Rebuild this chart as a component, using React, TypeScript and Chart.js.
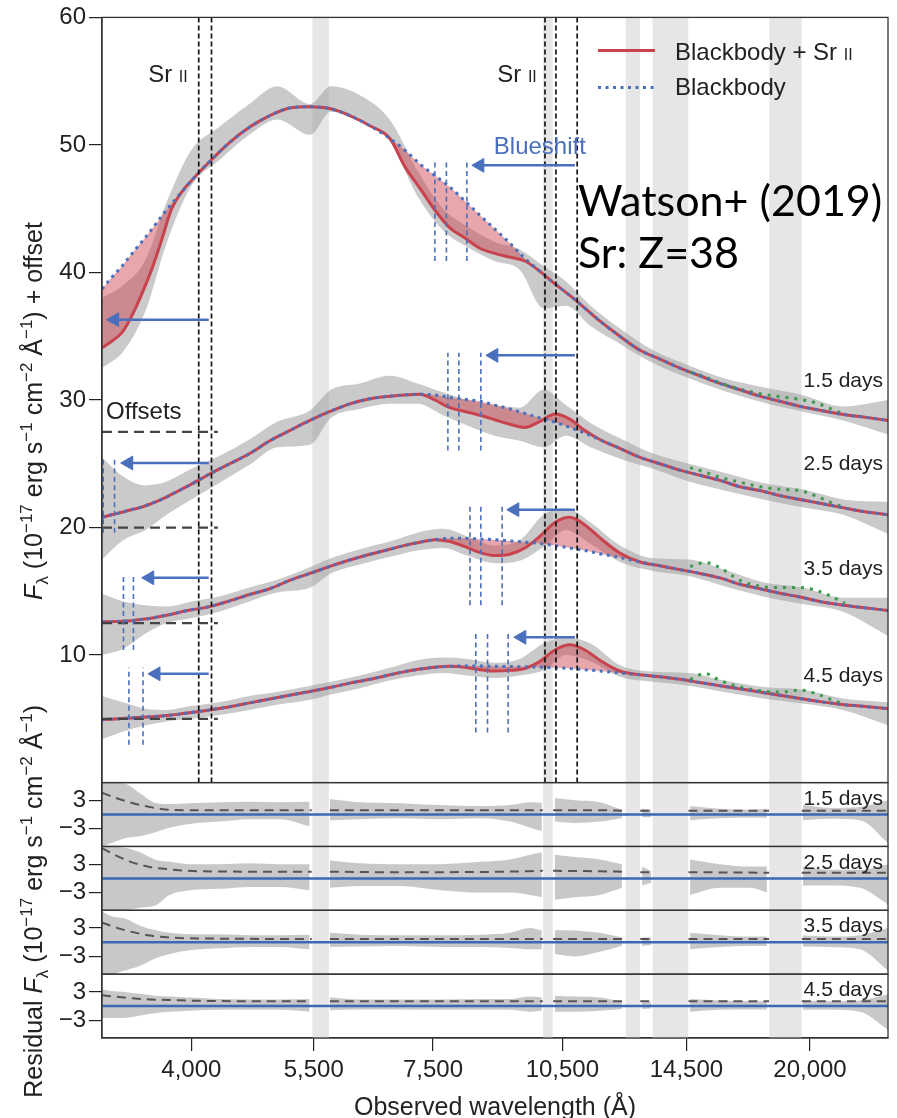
import React, { useEffect, useRef } from 'react';
import { Chart, registerables } from 'chart.js';

Chart.register(...registerables);

const FONT = '"Liberation Sans", Arial, Helvetica, sans-serif';
const NOTE_FONT = 'Lato, "Open Sans", sans-serif';

// ---------- axes ----------
const X_MIN = 3170;
const X_MAX = 24500;
const X_TICKS = [4000, 5500, 7500, 10500, 14500, 20000];
const Y_TICKS = [10, 20, 30, 40, 50, 60];
const RES_TICKS = [-3, 3];
const Y_MIN = 0;
const Y_MAX = 60;
const RES_LIM = 6.75;
const EPOCHS = ['1.5 days', '2.5 days', '3.5 days', '4.5 days'];

// ---------- model curves (wavelength grid in Å) ----------
const MODEL_WL = [3170, 3250, 3340, 3420, 3515, 3610, 3700, 3800, 3900, 4000, 4195, 4420, 4655, 4905, 5165, 5445, 5735, 6040, 6365, 6705, 6970, 7250, 7535, 7835, 8150, 8470, 8810, 9160, 9525, 9900, 10300, 10705, 11135, 11575, 12195, 12855, 13540, 14260, 15020, 15825, 16670, 17560, 18495, 19485, 20525, 21625, 22775, 24500];

const BB_15 = [38.7, 39.6, 40.5, 41.4, 42.4, 43.4, 44.4, 45.4, 46.3, 47.2, 48.7, 50.2, 51.4, 52.3, 52.9, 53.0, 52.85, 52.3, 51.5, 50.5, 49.6, 48.5, 47.6, 46.7, 45.6, 44.5, 43.4, 42.3, 41.1, 40.1, 39.1, 38.2, 37.2, 36.2, 35.0, 33.9, 33.2, 32.5, 31.9, 31.3, 30.8, 30.3, 29.9, 29.5, 29.2, 28.9, 28.7, 28.4];
const SR_15 = [34.1, 34.6, 35.3, 36.5, 38.3, 40.3, 42.5, 45.0, 46.3, 47.2, 48.7, 50.2, 51.4, 52.3, 52.9, 53.0, 52.85, 52.3, 51.5, 50.5, 48.3, 46.6, 44.9, 43.5, 42.7, 41.9, 41.5, 41.2, 40.9, 40.1, 39.1, 38.2, 37.2, 36.2, 35.0, 33.9, 33.2, 32.5, 31.9, 31.3, 30.8, 30.3, 29.9, 29.5, 29.2, 28.9, 28.7, 28.4];

const BB_25 = [20.8, 21.0, 21.2, 21.4, 21.6, 21.9, 22.2, 22.6, 23.0, 23.4, 24.2, 25.0, 25.8, 26.8, 27.6, 28.4, 29.1, 29.7, 30.1, 30.3, 30.4, 30.45, 30.4, 30.2, 30.05, 29.9, 29.6, 29.3, 28.95, 28.6, 28.25, 27.85, 27.4, 26.9, 26.2, 25.5, 25.0, 24.5, 24.1, 23.7, 23.2, 22.9, 22.5, 22.2, 21.9, 21.6, 21.3, 21.0];
const SR_25 = [20.8, 21.0, 21.2, 21.4, 21.6, 21.9, 22.2, 22.6, 23.0, 23.4, 24.2, 25.0, 25.8, 26.8, 27.6, 28.4, 29.1, 29.7, 30.1, 30.3, 30.4, 30.45, 30.0, 29.4, 29.1, 28.8, 28.45, 28.1, 27.85, 28.3, 28.9, 28.5, 27.6, 26.9, 26.2, 25.5, 25.0, 24.5, 24.1, 23.7, 23.2, 22.9, 22.5, 22.2, 21.9, 21.6, 21.3, 21.0];

const BB_35 = [12.6, 12.62, 12.65, 12.7, 12.8, 12.9, 13.05, 13.2, 13.4, 13.55, 13.8, 14.25, 14.75, 15.2, 15.85, 16.4, 16.95, 17.45, 17.9, 18.3, 18.6, 18.85, 19.05, 19.15, 19.15, 19.1, 19.05, 18.95, 18.85, 18.75, 18.6, 18.4, 18.2, 17.95, 17.65, 17.3, 17.0, 16.7, 16.4, 16.05, 15.55, 15.2, 14.85, 14.55, 14.2, 13.95, 13.75, 13.5];
const SR_35 = [12.6, 12.62, 12.65, 12.7, 12.8, 12.9, 13.05, 13.2, 13.4, 13.55, 13.8, 14.25, 14.75, 15.2, 15.85, 16.4, 16.95, 17.45, 17.9, 18.3, 18.6, 18.85, 19.05, 18.9, 18.5, 18.05, 17.8, 17.9, 18.4, 19.3, 20.4, 20.8, 20.2, 19.2, 18.0, 17.3, 17.0, 16.7, 16.4, 16.05, 15.55, 15.2, 14.85, 14.55, 14.2, 13.95, 13.75, 13.5];

const BB_45 = [4.93, 4.97, 5.02, 5.07, 5.12, 5.17, 5.22, 5.3, 5.4, 5.5, 5.7, 5.95, 6.25, 6.55, 6.85, 7.15, 7.45, 7.8, 8.1, 8.45, 8.7, 8.9, 9.05, 9.12, 9.15, 9.15, 9.12, 9.1, 9.08, 9.05, 9.0, 8.95, 8.85, 8.75, 8.6, 8.45, 8.3, 8.1, 7.85, 7.6, 7.35, 7.1, 6.85, 6.6, 6.35, 6.15, 6.0, 5.8];
const SR_45 = [4.93, 4.97, 5.02, 5.07, 5.12, 5.17, 5.22, 5.3, 5.4, 5.5, 5.7, 5.95, 6.25, 6.55, 6.85, 7.15, 7.45, 7.8, 8.1, 8.45, 8.7, 8.9, 9.05, 9.12, 9.05, 8.85, 8.75, 8.8, 8.95, 9.5, 10.4, 10.8, 10.4, 9.6, 8.75, 8.45, 8.3, 8.1, 7.85, 7.6, 7.35, 7.1, 6.85, 6.6, 6.35, 6.15, 6.0, 5.8];

// ---------- green dotted NIR component ----------
const GREEN_WL = [14640, 15220, 15825, 16670, 17560, 18495, 19485, 20260, 21065, 21905];
const GREEN_15 = [32.2, 31.8, 31.35, 30.85, 30.5, 30.25, 30.05, 29.8, 29.35, 28.85];
const GREEN_25 = [24.7, 24.35, 23.95, 23.55, 23.2, 23.0, 22.9, 22.5, 22.0, 21.55];
const GREEN_35 = [16.95, 17.25, 16.85, 15.85, 15.4, 15.3, 15.3, 15.1, 14.65, 14.05];
const GREEN_45 = [8.1, 8.55, 8.0, 7.5, 7.2, 7.1, 7.25, 7.0, 6.55, 6.1];

// ---------- observed spectrum envelope (grey) ----------
const SPEC_WL = [3170, 3350, 3550, 3750, 4000, 4300, 4650, 5000, 5450, 5750, 6200, 6700, 7200, 7700, 8200, 8800, 9400, 10000, 10600, 11300, 12200, 13300, 14600, 16000, 17700, 19600, 21800, 24500];
const SPEC_LO_15 = [32.5, 33.8, 37.0, 42.3, 46.8, 48.8, 50.8, 52.0, 50.8, 52.6, 52.0, 50.3, 46.0, 43.3, 42.0, 40.9, 40.2, 37.2, 37.4, 35.8, 34.4, 32.9, 31.7, 30.7, 29.8, 29.1, 28.4, 27.3];
const SPEC_HI_15 = [38.0, 39.0, 41.0, 45.5, 49.6, 51.4, 53.2, 54.6, 53.2, 54.6, 53.9, 52.0, 48.0, 45.0, 43.6, 42.4, 41.8, 40.5, 39.3, 37.4, 35.6, 33.9, 32.7, 31.7, 31.0, 30.4, 29.5, 30.0];
const SPEC_LO_25 = [17.5, 19.0, 19.8, 21.0, 22.2, 23.5, 24.9, 26.3, 26.5, 28.6, 29.3, 29.7, 29.7, 28.8, 28.0, 27.2, 26.8, 26.3, 27.2, 26.3, 25.4, 24.6, 23.6, 22.9, 22.2, 21.6, 21.0, 19.5];
const SPEC_HI_25 = [25.5, 24.0, 23.3, 23.6, 24.6, 25.6, 26.9, 28.3, 29.2, 30.8, 31.3, 31.9, 31.3, 30.6, 30.0, 29.6, 29.4, 30.8, 29.6, 28.2, 27.0, 25.8, 25.0, 24.3, 23.5, 23.0, 22.2, 22.0];
const SPEC_LO_35 = [10.0, 10.5, 11.7, 12.5, 12.9, 13.4, 14.2, 14.9, 15.3, 16.4, 17.1, 17.7, 18.2, 18.4, 17.8, 17.2, 17.4, 18.5, 19.8, 18.7, 17.3, 16.6, 16.2, 15.4, 14.6, 14.0, 13.4, 11.5];
const SPEC_HI_35 = [14.8, 14.2, 13.9, 13.8, 14.2, 14.6, 15.3, 15.9, 16.9, 17.6, 18.3, 18.9, 19.6, 19.9, 19.3, 18.6, 19.0, 21.0, 21.5, 20.4, 18.6, 17.6, 17.5, 16.7, 15.7, 15.3, 14.5, 14.5];
const SPEC_LO_45 = [3.4, 4.0, 4.5, 4.8, 5.0, 5.3, 5.7, 6.1, 6.5, 6.9, 7.4, 8.0, 8.4, 8.6, 8.4, 8.2, 8.4, 8.8, 10.0, 9.5, 8.3, 7.9, 7.6, 7.1, 6.6, 6.2, 5.7, 4.5];
const SPEC_HI_45 = [6.8, 6.3, 5.8, 5.7, 6.0, 6.3, 6.8, 7.1, 7.6, 7.9, 8.4, 9.0, 9.6, 9.8, 9.7, 9.4, 9.7, 10.9, 11.4, 10.9, 9.2, 8.7, 8.6, 8.0, 7.5, 7.3, 6.6, 6.3];

// ---------- residuals (null = masked telluric region) ----------
const RES_WL = [3170, 3250, 3365, 3500, 3635, 3780, 3980, 4305, 4655, 5035, 5440, 5600, 5735, 6200, 6880, 7640, 8470, 9165, 9655, 9955, 10100, 10300, 10850, 11575, 12260, 12600, 12920, 13230, 13900, 14640, 15825, 17110, 17880, 18700, 19640, 21065, 22775, 24500];
const RES_HI_15 = [6.7, 6.7, 6.5, 4.5, 2.5, 2.2, 2.4, 2.6, 2.7, 2.6, 2.7, null, 3.3, 2.6, 2.4, 2.0, 1.8, 2.0, 2.6, 2.5, null, 3.5, 3.0, 2.6, 1.0, null, 1.2, 1.0, null, 1.8, 1.2, 1.0, 1.2, null, 2.0, 1.4, 1.6, 3.0];
const RES_LO_15 = [-6.7, -6.0, -5.0, -4.6, -3.8, -2.8, -2.0, -1.5, -1.0, -1.0, -2.5, null, -1.2, -1.0, -0.8, -1.0, -0.8, -1.5, -2.8, -3.5, null, -1.5, -1.8, -1.5, -0.8, null, -0.6, -0.6, null, -1.2, -0.8, -0.7, -0.7, null, -1.2, -0.9, -1.2, -6.0];
const RES_HI_25 = [6.7, 6.7, 6.5, 5.5, 4.0, 3.5, 3.0, 3.0, 3.2, 3.0, 3.0, null, 3.8, 3.2, 3.0, 3.0, 3.5, 4.0, 5.0, 5.5, null, 5.0, 4.5, 4.0, 3.0, null, 2.5, 1.5, null, 4.0, 3.0, 2.5, 2.5, null, 2.5, 1.8, 1.8, 3.0];
const RES_LO_25 = [-6.7, -6.7, -6.7, -6.2, -5.8, -3.5, -2.5, -2.2, -1.8, -1.8, -2.5, null, -2.0, -1.6, -1.6, -2.5, -3.0, -3.0, -3.5, -4.0, null, -4.5, -4.0, -3.5, -2.0, null, -1.5, -1.0, null, -3.5, -2.0, -2.0, -3.0, null, -1.5, -1.5, -2.0, -5.5];
const RES_HI_35 = [6.5, 5.5, 5.0, 3.5, 2.6, 2.0, 1.7, 1.7, 1.5, 1.5, 1.6, null, 2.0, 1.6, 1.5, 1.5, 1.6, 2.0, 3.0, 2.5, null, 2.6, 2.5, 2.0, 1.0, null, 1.0, 1.0, null, 2.0, 1.5, 1.2, 1.2, null, 1.4, 1.2, 1.5, 3.0];
const RES_LO_35 = [-6.7, -6.7, -6.0, -5.0, -3.5, -2.5, -1.7, -1.3, -1.0, -1.0, -1.5, null, -1.0, -0.9, -0.8, -1.0, -1.0, -1.2, -1.5, -1.5, null, -2.5, -3.0, -2.0, -0.8, null, -0.8, -0.6, null, -1.5, -1.0, -0.8, -0.8, null, -0.9, -1.0, -1.5, -6.0];
const RES_HI_45 = [3.5, 3.2, 3.0, 2.6, 2.2, 2.0, 1.8, 1.5, 1.4, 1.4, 1.5, null, 1.8, 1.4, 1.4, 1.4, 1.5, 1.5, 2.0, 1.8, null, 2.2, 2.0, 1.8, 0.9, null, 0.8, 0.8, null, 1.5, 1.2, 1.0, 1.0, null, 1.2, 1.0, 1.2, 2.5];
const RES_LO_45 = [-2.5, -2.5, -2.5, -2.0, -1.5, -1.2, -1.0, -0.8, -0.8, -0.8, -1.2, null, -0.9, -0.7, -0.7, -0.8, -0.8, -0.8, -1.2, -1.0, null, -1.2, -1.2, -1.0, -0.6, null, -0.6, -0.5, null, -1.2, -0.8, -0.7, -0.7, null, -0.8, -0.8, -1.2, -5.0];

// dashed residual reference curve (null = masked region)
const RDASH_WL = [3170, 3275, 3405, 3590, 3780, 4085, 5305, 5470, 5600, 5735, 6880, 8930, 9980, 10100, 10250, 11585, 12370, 12600, 12860, 13270, 13900, 14580, 17980, 18700, 19580, 24500];
const RDASH_15 = [4.6, 3.6, 2.6, 1.6, 1.0, 0.9, 0.9, 0.9, null, 0.9, 0.9, 0.9, 0.9, null, 0.9, 0.9, 0.8, null, 0.8, 0.8, null, 0.8, 0.8, null, 0.8, 0.8];
const RDASH_25 = [6.4, 5.0, 3.6, 2.4, 1.9, 1.5, 1.4, 1.4, null, 1.4, 1.3, 1.4, 1.6, null, 1.6, 1.5, 1.4, null, 1.3, 1.3, null, 1.3, 1.2, null, 1.2, 1.2];
const RDASH_35 = [4.2, 3.2, 2.3, 1.4, 1.0, 0.8, 0.7, 0.7, null, 0.7, 0.7, 0.7, 0.7, null, 0.7, 0.7, 0.7, null, 0.7, 0.7, null, 0.7, 0.7, null, 0.7, 0.7];
const RDASH_45 = [2.3, 2.0, 1.7, 1.4, 1.3, 1.1, 1.0, 1.0, null, 1.0, 1.0, 1.0, 1.0, null, 1.0, 1.0, 1.0, null, 1.0, 1.0, null, 1.0, 1.0, null, 1.0, 1.0];

// ---------- annotations ----------
const TELLURIC_BANDS = [[5480, 5720], [9990, 10240], [12380, 12850], [13280, 14570], [17990, 19570]];
const SR_LINES = [4077, 4215, 10036, 10327, 10914];
const OFFSETS = [27.5, 20, 12.5, 5];
const OFFSET_END = 4285;
const SHIFT_RIGHT = [[7537, 7766, 8191], [7796, 8022, 8494], [8257, 8494, 8978], [8384, 8643, 9119]];
const SHIFT_RIGHT_Y = [[40.9, 48.7], [26.05, 33.7], [13.9, 21.9], [3.93, 11.76]];
const SHIFT_LEFT = [[], [3180, 3275], [3352, 3440], [3400, 3527]];
const SHIFT_LEFT_Y = [[0, 0], [19.6, 25.5], [10.4, 16.4], [2.97, 9.0]];
const ARROW_TAIL_LEFT = 4185;
const ARROW_TAIL_RIGHT = 10850;
const ARROW_LEFT_HEAD = [3276, 3398, 3589, 3648];
const ARROW_LEFT_Y = [36.3, 25.06, 16.06, 8.53];
const ARROW_RIGHT_HEAD = [8472, 8786, 9279, 9450];
const ARROW_RIGHT_Y = [48.4, 33.5, 21.4, 11.4];
const DAY_LABEL_Y = [31.5, 24.95, 16.75, 8.37];
const RES_LABEL_Y = 3.3;
const SR_LABEL_WL = [3962, 9825];
const SR_LABEL_Y = 55.6;
const BLUESHIFT_WL = 8786;
const BLUESHIFT_Y = 49.8;
const OFFSETS_LABEL_Y = 29.0;

// ---------- colours ----------
const BLUE = '#4a70bd';
const RED = '#c9434e';
const PINK = 'rgba(205, 60, 72, 0.45)';
const GREEN = '#3b9a4c';
const SPEC_GRAY = 'rgba(150,150,150,0.5)';
const RES_GRAY = 'rgba(155,155,155,0.55)';
const BAND_COLOR = '#e6e6e6';
const INK = '#222';

const MAIN = [
  { bb: BB_15, sr: SR_15, lo: SPEC_LO_15, hi: SPEC_HI_15, green: GREEN_15 },
  { bb: BB_25, sr: SR_25, lo: SPEC_LO_25, hi: SPEC_HI_25, green: GREEN_25 },
  { bb: BB_35, sr: SR_35, lo: SPEC_LO_35, hi: SPEC_HI_35, green: GREEN_35 },
  { bb: BB_45, sr: SR_45, lo: SPEC_LO_45, hi: SPEC_HI_45, green: GREEN_45 },
];
const RES = [
  { hi: RES_HI_15, lo: RES_LO_15, dash: RDASH_15 },
  { hi: RES_HI_25, lo: RES_LO_25, dash: RDASH_25 },
  { hi: RES_HI_35, lo: RES_LO_35, dash: RDASH_35 },
  { hi: RES_HI_45, lo: RES_LO_45, dash: RDASH_45 },
];
const RES_AXES = ['r1', 'r2', 'r3', 'r4'];

const pts = (xs: number[], ys: (number | null)[]) => xs.map((x, i) => ({ x, y: ys[i] }));

function buildDatasets() {
  const ds: any[] = [];
  const base = { pointRadius: 0, fill: false, tension: 0, spanGaps: false };
  MAIN.forEach((e, i) => {
    ds.push({ ...base, yAxisID: 'y', data: pts(SPEC_WL, e.hi), borderColor: 'rgba(0,0,0,0)', borderWidth: 0, backgroundColor: SPEC_GRAY, fill: '+1', order: 60, cubicInterpolationMode: 'monotone' });
    ds.push({ ...base, yAxisID: 'y', data: pts(SPEC_WL, e.lo), borderColor: 'rgba(0,0,0,0)', borderWidth: 0, order: 60, cubicInterpolationMode: 'monotone' });
    ds.push({ ...base, yAxisID: 'y', data: pts(MODEL_WL, e.sr), borderColor: RED, borderWidth: 3, backgroundColor: PINK, fill: '+1', order: 40, cubicInterpolationMode: 'monotone' });
    ds.push({ ...base, yAxisID: 'y', data: pts(MODEL_WL, e.bb), borderColor: BLUE, borderWidth: 3, borderDash: [3, 4.5], order: 30, cubicInterpolationMode: 'monotone' });
    ds.push({ ...base, yAxisID: 'y', data: pts(GREEN_WL, e.green), borderColor: GREEN, borderWidth: 3, borderDash: [3, 6], order: 35, cubicInterpolationMode: 'monotone' });
    SHIFT_RIGHT[i].forEach((w) => {
      ds.push({ ...base, yAxisID: 'y', data: [{ x: w, y: SHIFT_RIGHT_Y[i][0] }, { x: w, y: SHIFT_RIGHT_Y[i][1] }], borderColor: BLUE, borderWidth: 1.6, borderDash: [5, 3.5], order: 8 });
    });
    SHIFT_LEFT[i].forEach((w) => {
      ds.push({ ...base, yAxisID: 'y', data: [{ x: w, y: SHIFT_LEFT_Y[i][0] }, { x: w, y: SHIFT_LEFT_Y[i][1] }], borderColor: BLUE, borderWidth: 1.6, borderDash: [5, 3.5], order: 8 });
    });
    const arrow = (tail: number, head: number, y: number) => ({
      ...base, yAxisID: 'y', data: [{ x: tail, y }, { x: head, y }],
      borderColor: BLUE, borderWidth: 2.5, pointRadius: [0, 8], pointStyle: 'triangle', pointRotation: -90,
      pointBackgroundColor: BLUE, pointBorderColor: BLUE, pointBorderWidth: 1, order: 5,
    });
    ds.push(arrow(ARROW_TAIL_LEFT, ARROW_LEFT_HEAD[i], ARROW_LEFT_Y[i]));
    ds.push(arrow(ARROW_TAIL_RIGHT, ARROW_RIGHT_HEAD[i], ARROW_RIGHT_Y[i]));
  });
  SR_LINES.forEach((w) => {
    ds.push({ ...base, yAxisID: 'y', data: [{ x: w, y: Y_MIN }, { x: w, y: Y_MAX }], borderColor: '#111', borderWidth: 1.7, borderDash: [5, 3], order: 9 });
  });
  OFFSETS.forEach((v) => {
    ds.push({ ...base, yAxisID: 'y', data: [{ x: X_MIN, y: v }, { x: OFFSET_END, y: v }], borderColor: '#444', borderWidth: 2.2, borderDash: [10, 6], order: 9 });
  });
  RES.forEach((r, i) => {
    const ax = RES_AXES[i];
    ds.push({ ...base, yAxisID: ax, data: pts(RES_WL, r.hi), borderColor: 'rgba(0,0,0,0)', borderWidth: 0, backgroundColor: RES_GRAY, fill: '+1', order: 60, cubicInterpolationMode: 'monotone' });
    ds.push({ ...base, yAxisID: ax, data: pts(RES_WL, r.lo), borderColor: 'rgba(0,0,0,0)', borderWidth: 0, order: 60, cubicInterpolationMode: 'monotone' });
    ds.push({ ...base, yAxisID: ax, data: [{ x: X_MIN, y: 0 }, { x: X_MAX, y: 0 }], borderColor: '#3a68b5', borderWidth: 2.5, order: 20 });
    ds.push({ ...base, yAxisID: ax, data: pts(RDASH_WL, r.dash), borderColor: '#555', borderWidth: 2, borderDash: [9, 6], order: 15, cubicInterpolationMode: 'monotone' });
  });
  return ds;
}

type Part = { t: string; s?: 'sup' | 'sub'; i?: boolean };
const MAIN_TITLE: Part[] = [
  { t: 'F', i: true }, { t: 'λ', s: 'sub' }, { t: ' (10' }, { t: '−17', s: 'sup' }, { t: ' erg s' }, { t: '−1', s: 'sup' },
  { t: ' cm' }, { t: '−2', s: 'sup' }, { t: ' Å' }, { t: '−1', s: 'sup' }, { t: ') + offset' },
];
const RES_TITLE: Part[] = [
  { t: 'Residual ' }, { t: 'F', i: true }, { t: 'λ', s: 'sub' }, { t: ' (10' }, { t: '−17', s: 'sup' }, { t: ' erg s' }, { t: '−1', s: 'sup' },
  { t: ' cm' }, { t: '−2', s: 'sup' }, { t: ' Å' }, { t: '−1', s: 'sup' }, { t: ')' },
];

function drawRich(ctx: any, parts: Part[], cx: number, cy: number, size: number, rotate: boolean) {
  const small = Math.round(size * 0.66);
  const fontFor = (p: Part) => `${p.i ? 'italic ' : ''}${p.s ? small : size}px ${FONT}`;
  let total = 0;
  for (const p of parts) { ctx.font = fontFor(p); total += ctx.measureText(p.t).width; }
  ctx.save();
  ctx.translate(cx, cy);
  if (rotate) ctx.rotate(-Math.PI / 2);
  ctx.textAlign = 'left';
  ctx.textBaseline = 'alphabetic';
  ctx.fillStyle = INK;
  let x = -total / 2;
  for (const p of parts) {
    ctx.font = fontFor(p);
    const dy = p.s === 'sup' ? -size * 0.4 : p.s === 'sub' ? size * 0.25 : 0;
    ctx.fillText(p.t, x, size * 0.36 + dy);
    x += ctx.measureText(p.t).width;
  }
  ctx.restore();
}

function text(ctx: any, s: string, x: number, y: number, size: number, opt: any = {}) {
  ctx.font = `${size}px ${opt.family || FONT}`;
  ctx.fillStyle = opt.color || INK;
  ctx.textAlign = opt.align || 'left';
  ctx.textBaseline = 'middle';
  ctx.fillText(s, x, y);
}

function srII(ctx: any, xr: number | null, xl: number | null, y: number, size: number, prefix: string) {
  ctx.font = `${size}px ${FONT}`;
  const w1 = ctx.measureText(prefix + ' ').width;
  ctx.font = `${Math.round(size * 0.68)}px ${FONT}`;
  const w2 = ctx.measureText('II').width;
  const x0 = xl !== null ? xl : (xr as number) - w1 - w2;
  ctx.textAlign = 'left';
  ctx.textBaseline = 'alphabetic';
  ctx.fillStyle = INK;
  ctx.font = `${size}px ${FONT}`;
  ctx.fillText(prefix + ' ', x0, y + size * 0.36);
  ctx.font = `${Math.round(size * 0.68)}px ${FONT}`;
  ctx.fillText('II', x0 + w1, y + size * 0.36);
}

const decoPlugin = {
  id: 'deco',
  beforeDatasetsDraw(chart: any) {
    const { ctx, chartArea: a, scales } = chart;
    const xs = scales.x;
    ctx.save();
    ctx.fillStyle = BAND_COLOR;
    for (const [lo, hi] of TELLURIC_BANDS) {
      const x1 = xs.getPixelForValue(lo);
      const x2 = xs.getPixelForValue(hi);
      ctx.fillRect(x1, a.top, x2 - x1, a.bottom - a.top);
    }
    ctx.restore();
  },
  afterDatasetsDraw(chart: any) {
    const { ctx, chartArea: a, scales } = chart;
    const xs = scales.x;
    const ys = scales.y;
    ctx.save();
    ctx.strokeStyle = '#333';
    ctx.lineWidth = 1.3;
    ['y', ...RES_AXES].forEach((id) => {
      const s = scales[id];
      ctx.strokeRect(a.left, s.top, a.right - a.left, s.bottom - s.top);
    });
    SR_LABEL_WL.forEach((w) => srII(ctx, xs.getPixelForValue(w), null, ys.getPixelForValue(SR_LABEL_Y), 24, 'Sr'));
    const lx = a.left + 496;
    const ly1 = a.top + 33;
    const ly2 = a.top + 70;
    ctx.lineWidth = 3;
    ctx.strokeStyle = RED;
    ctx.beginPath(); ctx.moveTo(lx, ly1); ctx.lineTo(lx + 57, ly1); ctx.stroke();
    ctx.strokeStyle = BLUE;
    ctx.setLineDash([3, 4.5]);
    ctx.beginPath(); ctx.moveTo(lx, ly2); ctx.lineTo(lx + 57, ly2); ctx.stroke();
    ctx.setLineDash([]);
    srII(ctx, null, lx + 77, ly1 + 1, 24, 'Blackbody + Sr');
    text(ctx, 'Blackbody', lx + 77, ly2 + 1, 24);
    text(ctx, 'Blueshift', xs.getPixelForValue(BLUESHIFT_WL), ys.getPixelForValue(BLUESHIFT_Y), 24, { color: BLUE });
    text(ctx, 'Offsets', a.left + 4, ys.getPixelForValue(OFFSETS_LABEL_Y), 24);
    EPOCHS.forEach((lab, i) => {
      text(ctx, lab, a.right - 5, ys.getPixelForValue(DAY_LABEL_Y[i]), 21, { align: 'right' });
      text(ctx, lab, a.right - 5, scales[RES_AXES[i]].getPixelForValue(RES_LABEL_Y), 21, { align: 'right' });
    });
    text(ctx, 'Watson+ (2019)', a.left + 476, a.top + 185, 43, { family: NOTE_FONT, color: '#000' });
    text(ctx, 'Sr: Z=38', a.left + 476, a.top + 237, 43, { family: NOTE_FONT, color: '#000' });
    drawRich(ctx, MAIN_TITLE, a.left - 69, (ys.top + ys.bottom) / 2 + 11, 25, true);
    drawRich(ctx, RES_TITLE, a.left - 69, (scales.r1.top + scales.r4.bottom) / 2 - 9, 25, true);
    drawRich(ctx, [{ t: 'Observed wavelength (Å)' }], (a.left + a.right) / 2, a.bottom + 68, 25, false);
    ctx.restore();
  },
};

function yAxis(stackWeight: number, weight: number, min: number, max: number, ticks: number[]) {
  return {
    type: 'linear', position: 'left', stack: 'panels', stackWeight, weight, min, max,
    afterBuildTicks: (s: any) => { s.ticks = ticks.map((v) => ({ value: v })); },
    afterFit: (s: any) => { s.width = 102; },
    ticks: {
      font: { size: 24, family: FONT }, color: INK, padding: 3,
      callback: (v: any) => (Number(v) < 0 ? '−' + Math.abs(Number(v)) : String(v)),
    },
    grid: { drawOnChartArea: false, tickLength: 13, color: '#222', lineWidth: 1.2 },
    border: { display: true, color: '#333', width: 1.3 },
  };
}

export default function App() {
  const ref = useRef<HTMLCanvasElement>(null);
  useEffect(() => {
    const chart = new Chart(ref.current as HTMLCanvasElement, {
      type: 'line',
      data: { datasets: buildDatasets() },
      options: {
        responsive: false,
        maintainAspectRatio: false,
        animation: false,
        events: [],
        devicePixelRatio: 1,
        layout: { padding: { top: 16, right: 9, left: 0, bottom: 0 } },
        plugins: { legend: { display: false }, tooltip: { enabled: false } },
        elements: { point: { radius: 0 } },
        scales: {
          x: {
            type: 'logarithmic', position: 'bottom', min: X_MIN, max: X_MAX,
            afterBuildTicks: (s: any) => { s.ticks = X_TICKS.map((v) => ({ value: v })); },
            afterFit: (s: any) => { s.height = 80; },
            ticks: {
              autoSkip: false, maxRotation: 0, padding: 5, color: INK,
              font: { size: 24, family: FONT },
              callback: (v: any) => Number(v).toLocaleString('en-US'),
            },
            grid: { drawOnChartArea: false, tickLength: 13, color: '#222', lineWidth: 1.2 },
            border: { display: true, color: '#333', width: 1.3 },
          },
          y: yAxis(767, 10, Y_MIN, Y_MAX, Y_TICKS),
          r1: yAxis(64, 8, -RES_LIM, RES_LIM, RES_TICKS),
          r2: yAxis(64, 6, -RES_LIM, RES_LIM, RES_TICKS),
          r3: yAxis(64, 4, -RES_LIM, RES_LIM, RES_TICKS),
          r4: yAxis(64, 2, -RES_LIM, RES_LIM, RES_TICKS),
        },
      } as any,
      plugins: [decoPlugin],
    } as any);
    return () => chart.destroy();
  }, []);
  return (
    <div style={{ position: 'absolute', left: 0, top: 0, width: 897, height: 1118, background: '#fff' }}>
      <canvas ref={ref} width={897} height={1118} style={{ width: 897, height: 1118, display: 'block' }} />
    </div>
  );
}
